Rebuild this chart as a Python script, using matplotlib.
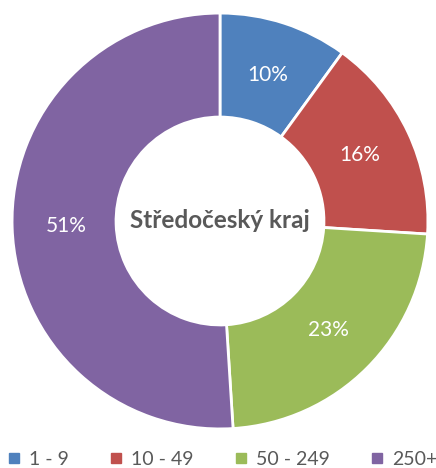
import matplotlib.pyplot as plt
from matplotlib.lines import Line2D

categories = ["1 - 9", "10 - 49", "50 - 249", "250+"]
values = [10, 16, 23, 51]
colors = ["#4F81BD", "#C0504D", "#9BBB59", "#8064A2"]
title = "Středočeský kraj"

plt.rcParams['font.family'] = ['Lato', 'DejaVu Sans']

fig = plt.figure(figsize=(4.36, 4.68), dpi=100)
ax = fig.add_axes([10 / 436, 37 / 468, 420 / 436, 420 / 468])

wedges, texts, autotexts = ax.pie(
    values, colors=colors, startangle=90, counterclock=False,
    autopct=lambda p: "%.0f%%" % p, pctdistance=0.74,
    wedgeprops=dict(width=0.5, edgecolor="white", linewidth=2),
    textprops=dict(color="white", fontsize=15))
ax.set_xlim(-1.01, 1.01)
ax.set_ylim(-1.01, 1.01)
ax.set_aspect("equal")

ax.text(0, 0, title, ha="center", va="center", fontsize=17.5,
        fontweight="bold", color="#595959")

handles = [Line2D([], [], marker="s", linestyle="", markersize=7,
                  markerfacecolor=c, markeredgecolor=c) for c in colors]
fig.legend(handles, categories, loc="lower center", ncol=4, frameon=False,
           fontsize=14, labelcolor="#595959", handlelength=0.7,
           handletextpad=0.4, columnspacing=2.1,
           bbox_to_anchor=(0.51, -0.038))

fig.savefig("out.png", dpi=100)
